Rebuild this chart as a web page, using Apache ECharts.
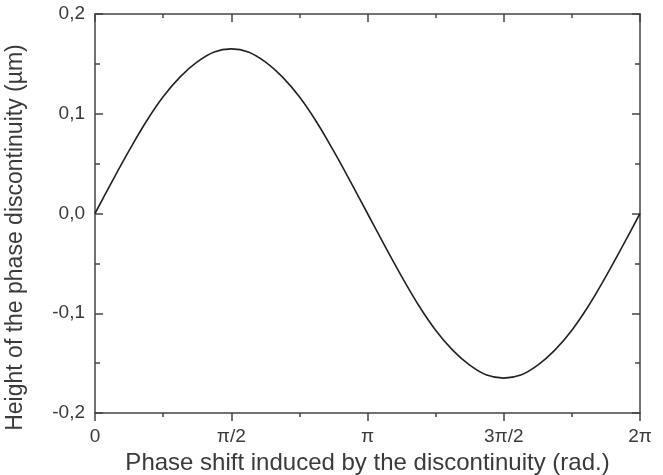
<!DOCTYPE html>
<html><head><meta charset="utf-8">
<script src="https://cdn.jsdelivr.net/npm/echarts@6/dist/echarts.min.js"></script>
<style>html,body{margin:0;padding:0;background:#fff}#c{width:663px;height:475px}</style>
</head><body><div id="c"></div>
<script>
// phase shift in degrees (0..360 == 0..2π)
var phaseDeg = [0,11.25,22.5,33.75,45,56.25,67.5,78.75,90,101.25,112.5,123.75,135,146.25,157.5,168.75,180,191.25,202.5,213.75,225,236.25,247.5,258.75,270,281.25,292.5,303.75,315,326.25,337.5,348.75,360];
// height of the discontinuity (µm)
var heightUm = [0,0.032,0.063,0.092,0.117,0.137,0.152,0.162,0.165,0.162,0.152,0.137,0.117,0.092,0.063,0.032,0,-0.032,-0.063,-0.092,-0.117,-0.137,-0.152,-0.162,-0.165,-0.162,-0.152,-0.137,-0.117,-0.092,-0.063,-0.032,0];
var xTickLabels = {0:'0',90:'π/2',180:'π',270:'3π/2',360:'2π'};

var axisCol = '#444';
var txtCol = '#3a3a3a';
var font = 'Liberation Sans, Arial, sans-serif';
var chart = echarts.init(document.getElementById('c'));
chart.setOption({
  animation:false,
  grid:{left:95,right:23,top:14,bottom:62,containLabel:false,outerBoundsMode:'none'},
  xAxis:[{
    type:'value',min:0,max:360,interval:90,position:'bottom',
    name:'Phase shift induced by the discontinuity (rad.)',nameLocation:'middle',nameGap:38,
    nameTextStyle:{fontFamily:font,fontSize:24,color:txtCol},
    axisLine:{show:true,onZero:false,lineStyle:{color:axisCol,width:1.5}},
    axisTick:{show:true,inside:false,length:8,lineStyle:{color:axisCol,width:1.5}},
    minorTick:{show:true,splitNumber:2,length:4,lineStyle:{color:axisCol,width:1.5}},
    splitLine:{show:false},
    axisLabel:{margin:14,fontFamily:font,fontSize:19,color:txtCol,formatter:function(v){return xTickLabels[v]!==undefined?xTickLabels[v]:'';}}
  },{
    type:'value',min:0,max:360,interval:90,position:'top',
    axisLine:{show:true,onZero:false,lineStyle:{color:axisCol,width:1.5}},
    axisTick:{show:true,inside:true,length:8,lineStyle:{color:axisCol,width:1.5}},
    minorTick:{show:true,splitNumber:2,length:4,lineStyle:{color:axisCol,width:1.5}},
    splitLine:{show:false},axisLabel:{show:false}
  }],
  yAxis:[{
    type:'value',min:-0.2,max:0.2,interval:0.1,position:'left',
    name:'Height of the phase discontinuity (µm)',nameLocation:'middle',nameGap:68,
    nameTextStyle:{fontFamily:font,fontSize:23,color:txtCol,padding:[0,48,0,0]},
    axisLine:{show:true,onZero:false,lineStyle:{color:axisCol,width:1.5}},
    axisTick:{show:true,inside:true,length:8,lineStyle:{color:axisCol,width:1.5}},
    minorTick:{show:true,splitNumber:2,length:5,lineStyle:{color:axisCol,width:1.5}},
    splitLine:{show:false},
    axisLabel:{margin:10,fontFamily:font,fontSize:19,color:txtCol,formatter:function(v){return v.toFixed(1).replace('.',',');}}
  },{
    type:'value',min:-0.2,max:0.2,interval:0.1,position:'right',
    axisLine:{show:true,onZero:false,lineStyle:{color:axisCol,width:1.5}},
    axisTick:{show:true,inside:true,length:8,lineStyle:{color:axisCol,width:1.5}},
    minorTick:{show:true,splitNumber:2,length:5,lineStyle:{color:axisCol,width:1.5}},
    splitLine:{show:false},axisLabel:{show:false}
  }],
  series:[{
    type:'line',xAxisIndex:0,yAxisIndex:0,smooth:0.4,showSymbol:false,
    data:phaseDeg.map(function(x,i){return [x,heightUm[i]];}),
    lineStyle:{color:'#222',width:1.6}
  }]
});
</script></body></html>
